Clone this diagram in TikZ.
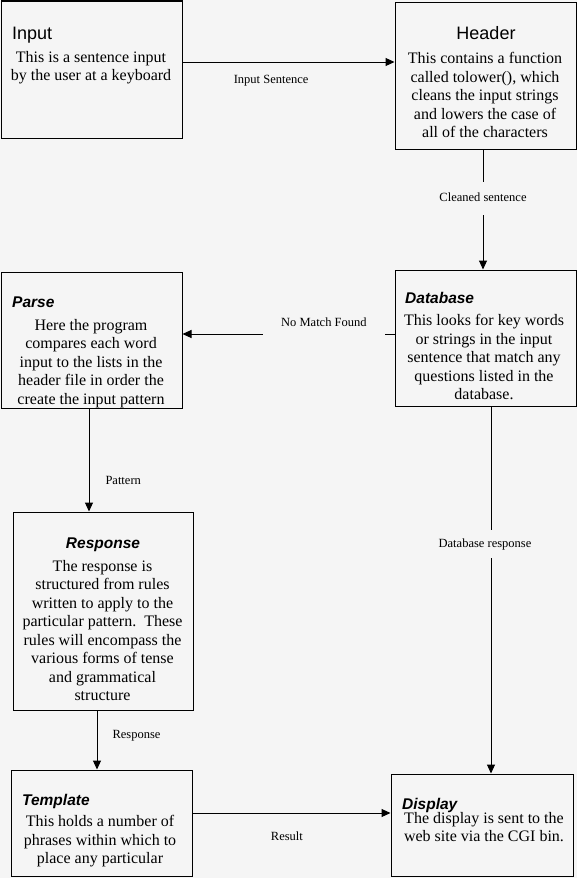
\documentclass[tikz,border=0pt]{standalone}
\usepackage{fontspec}
\setmainfont{Liberation Serif}
\newfontfamily\arialf{Liberation Sans}
\usetikzlibrary{arrows.meta}
\definecolor{bg}{RGB}{245,245,245}
\tikzset{
 box/.style={draw=black, line width=1pt, fill=bg, inner sep=0pt},
 ttl/.style={font=\arialf\fontsize{18}{21}\selectfont, inner sep=0pt},
 ttlbi/.style={font=\arialf\bfseries\itshape\fontsize{15.5}{18}\selectfont, inner sep=0pt, anchor=base west},
 body/.style={font=\fontsize{16}{18.5}\selectfont, align=center, inner sep=0pt, anchor=north},
 lbl/.style={font=\fontsize{12.5}{15}\selectfont, inner sep=0pt},
 arr/.style={line width=1pt, -{Triangle[length=9pt,width=8pt]}},
}
\begin{document}
\begin{tikzpicture}[x=1pt,y=-1pt]
\useasboundingbox[fill=bg] (0,0) rectangle (577,878);
% boxes
\node[box, minimum width=181pt, minimum height=137pt] (input) at (91.5,69.5) {};
\node[box, minimum width=181pt, minimum height=147pt] (header) at (485.5,75.5) {};
\node[box, minimum width=181pt, minimum height=136pt] (parse) at (91.5,340) {};
\node[box, minimum width=181pt, minimum height=136pt] (db) at (485.5,338) {};
\node[box, minimum width=180pt, minimum height=198pt] (resp) at (103,611) {};
\node[box, minimum width=181pt, minimum height=106pt] (tmpl) at (101.5,823) {};
\node[box, minimum width=182pt, minimum height=102pt] (disp) at (482,825) {};
% titles
\node[ttl, anchor=base west] (tinput) at (12,39) {Input};
\node[ttl, anchor=base] (theader) at (486,39) {Header};
\node[ttlbi] (tparse) at (12,307) {Parse};
\node[ttlbi] (tdb) at (405,303) {Database};
\node[ttlbi, anchor=base] (tresp) at (103,548) {Response};
\node[ttlbi] (ttmpl) at (22,805) {Template};
\node[ttlbi] (tdisp) at (402,809) {Display};
% bodies
\node[body] (binput) at (91,51.1) {This is a sentence input\\by the user at a keyboard};
\node[body] (bheader) at (485,52.1) {This contains a function\\called tolower(), which\\cleans the input strings\\and lowers the case of\\all of the characters};
\node[body] (bparse) at (91,319.1) {Here the program\\compares each word\\input to the lists in the\\header file in order the\\create the input pattern};
\node[body] (bdb) at (484,314.1) {This looks for key words\\or strings in the input\\sentence that match any\\questions listed in the\\database.};
\node[body] (bresp) at (102.5,559.7) {The response is\\structured from rules\\written to apply to the\\particular pattern.\ \ These\\rules will encompass the\\various forms of tense\\and grammatical\\structure};
\node[body] (btmpl) at (100,815.1) {This holds a number of\\phrases within which to\\place any particular};
\node[body] (bdisp) at (484,812.1) {The display is sent to the\\web site via the CGI bin.};
% connectors
\draw[arr] ([yshift=7.5pt]input.east) -- node[lbl, pos=0.418, anchor=base, yshift=-21pt] (l1) {Input Sentence} ([yshift=13.5pt]header.west);
\draw[arr] ([xshift=-2.5pt]header.south) -- node[lbl, pos=0.409, fill=bg, text height=9pt, text depth=3pt, inner xsep=2pt, inner ysep=10.5pt] (l2) {Cleaned sentence} ([xshift=-2.5pt]db.north);
\draw[arr] ([yshift=4pt]db.west) -- node[lbl, pos=0.333, fill=bg, minimum width=122pt, text height=9pt, text depth=25pt, inner ysep=2pt] (l3) {No Match Found} ([yshift=6pt]parse.east);
\draw[arr] ([xshift=-2.5pt]parse.south) -- node[lbl, pos=0.74, anchor=base west, xshift=16pt] (l4) {Pattern} ([xshift=-14pt]resp.north);
\draw[arr] ([xshift=5.5pt]db.south) -- node[lbl, pos=0.375, fill=bg, xshift=-6pt, text height=9pt, text depth=3pt, inner xsep=2pt, inner ysep=8pt] (l5) {Database response} ([xshift=9pt]disp.north);
\draw[arr] ([xshift=-6pt]resp.south) -- node[lbl, pos=0.48, anchor=base west, xshift=15pt] (l6) {Response} ([xshift=-4.5pt]tmpl.north);
\draw[arr] ([yshift=10pt]tmpl.east) -- node[lbl, pos=0.477, anchor=base, yshift=-27pt] (l7) {Result} ([yshift=12pt]disp.west);
\end{tikzpicture}
\end{document}
